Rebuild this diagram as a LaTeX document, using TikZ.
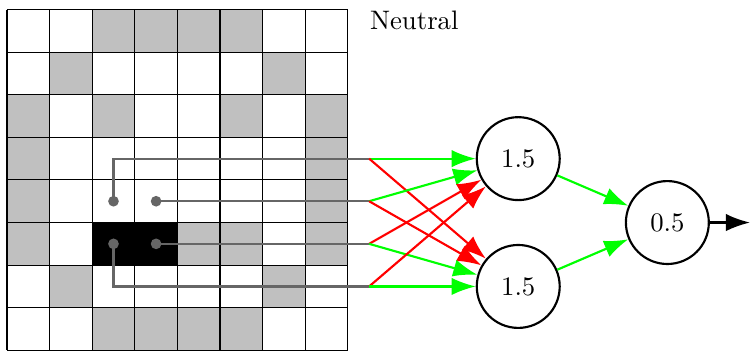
\documentclass[tikz,border=0pt]{standalone}
\usepackage{xcolor}
\usetikzlibrary{arrows.meta,positioning}
\definecolor{CellGray}{RGB}{192,192,192}
\definecolor{PosGreen}{RGB}{0,255,0}
\definecolor{NegRed}{RGB}{255,0,0}

\begin{document}
\begin{tikzpicture}[
    x=0.56cm, y=0.56cm,
    neuron/.style={draw, circle, thick, minimum size=1.09cm, inner sep=0pt},
    wire/.style={black!60, line width=0.8pt},
    excite/.style={->, PosGreen, line width=0.8pt},
    inhibit/.style={->, NegRed, line width=0.8pt},
    >={Latex[length=9pt,width=6.5pt]}
  ]
  \useasboundingbox (-0.164,0.223) rectangle (17.44,-8.04);

  % Kulrang kataklar
  \foreach \c/\r in {2/0,3/0,4/0,5/0, 1/1,6/1, 0/2,2/2,5/2,7/2,
                     0/3,7/3, 0/4,7/4, 0/5,4/5,5/5,7/5,
                     1/6,6/6, 2/7,3/7,4/7,5/7}{
    \fill[CellGray] (\c,-\r) rectangle ++(1,-1);
  }
  % Qora kataklar
  \fill[black] (2,-5) rectangle (4,-6);
  \foreach \k in {0,...,8}{
    \draw[line width=0.4pt] (\k,0) -- (\k,-8);
    \draw[line width=0.4pt] (0,-\k) -- (8,-\k);
  }

  \node[anchor=west] (title) at (8.3,-0.25) {Neutral};

  % Kirish nuqtalari
  \coordinate (d1) at (2.5,-4.5);
  \coordinate (d2) at (3.5,-4.5);
  \coordinate (d3) at (3.5,-5.5);
  \coordinate (d4) at (2.5,-5.5);
  \coordinate (i1) at (8.5,-3.5);
  \coordinate (i2) at (8.5,-4.5);
  \coordinate (i3) at (8.5,-5.5);
  \coordinate (i4) at (8.5,-6.5);

  \draw[wire] (d1) |- (i1);
  \draw[wire] (d2) -- (i2);
  \draw[wire] (d3) -- (i3);
  \draw[wire] (d4) |- (i4);
  \foreach \d in {d1,d2,d3,d4}{
    \fill[black!60] (\d) circle (2pt);
  }

  % Neyronlar
  \node[neuron] (h1) at (12,-3.5) {1.5};
  \node[neuron] (h2) at (12,-6.5) {1.5};
  \node[neuron] (out) at (15.5,-5) {0.5};
  \coordinate (y) at (17.44,-5);

  \foreach \i/\s/\t in {1/excite/inhibit, 2/excite/inhibit, 3/inhibit/excite, 4/inhibit/excite}{
    \draw[\s] (i\i) -- (h1);
    \draw[\t] (i\i) -- (h2);
  }

  \draw[excite] (h1) -- (out);
  \draw[excite] (h2) -- (out);
  \draw[->, thick] (out) -- (y);

\end{tikzpicture}
\end{document}
